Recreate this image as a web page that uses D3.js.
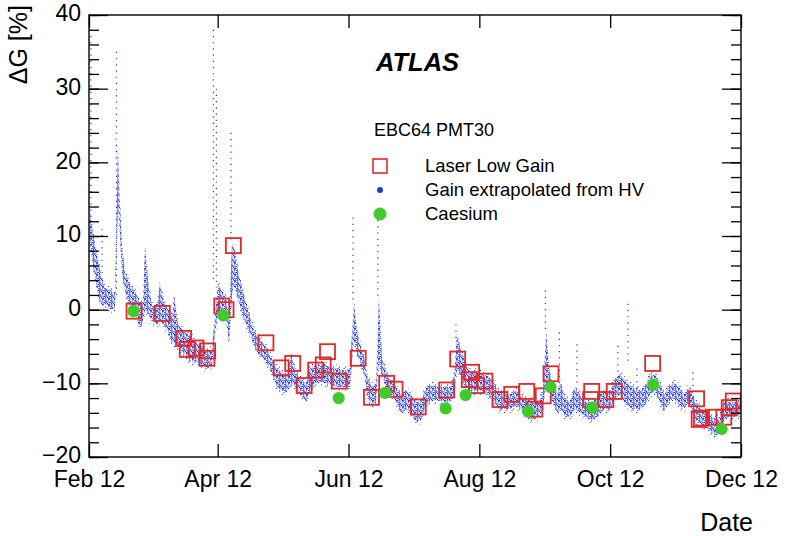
<!DOCTYPE html>
<html>
<head>
<meta charset="utf-8">
<script src="https://cdn.jsdelivr.net/npm/d3@7"></script>
<style>
  body { margin: 0; background: #fff; }
  svg { display: block; }
  text { font-family: 'Liberation Sans', Arial, Helvetica, sans-serif; fill: #000; }
</style>
</head>
<body>
<div id="chart"></div>
<script>
// x ticks
var tickDates = ['2012-02-01', '2012-04-01', '2012-06-01', '2012-08-01', '2012-10-01', '2012-12-01'];
var tickLabels = ['Feb 12', 'Apr 12', 'Jun 12', 'Aug 12', 'Oct 12', 'Dec 12'];
var yTicks = [-20, -10, 0, 10, 20, 30, 40];

// gain extrapolated from HV: spread of the points per day (days after Feb 1)
var hvDay = [0.5, 1.9, 3.3, 4.7, 6.1, 7.5, 9.8, 12.1, 13.5, 14.5, 15.4, 16.8, 19.1, 21.4, 23.8, 25.2,
    26.1, 27.5, 29.4, 31.7, 33.1, 35.0, 36.8, 38.7, 39.6, 41.5, 44.3, 47.1, 49.9, 52.7, 55.5, 57.3,
    60.1, 62.0, 63.9, 65.3, 66.7, 67.6, 69.0, 70.9, 72.7, 74.6, 76.5, 78.8, 81.1, 83.4, 85.8, 87.6,
    90.0, 92.3, 94.2, 96.5, 98.8, 101.2, 103.0, 105.4, 107.7, 110.5, 113.3, 116.1, 118.9, 121.7,
    123.5, 124.9, 126.8, 128.2, 129.6, 131.9, 133.8, 135.2, 136.6, 138.5, 140.8, 143.1, 145.5, 147.8,
    150.1, 152.4, 154.8, 157.1, 159.9, 162.7, 165.5, 168.3, 170.2, 171.6, 173.4, 175.3, 177.6, 180.4,
    183.2, 186.0, 188.8, 191.1, 193.5, 196.3, 199.1, 201.4, 204.2, 207.0, 209.8, 211.7, 213.1, 214.5,
    216.3, 218.2, 220.0, 221.9, 224.2, 226.6, 228.9, 231.7, 234.5, 237.3, 240.1, 242.9, 245.2, 247.6,
    249.4, 253.1, 256.9, 259.2, 261.5, 263.9, 266.2, 268.1, 270.4, 272.7, 275.1, 277.4, 279.7, 283.0,
    285.3, 287.6, 290.0, 292.3, 294.2, 296.0, 298.4, 300.7, 303.5];
var hvLo = [9, 6, 3.5, 1.5, 0.5, 0.8, 0, 0.2, 14, 10, 5, 2.5, 0.5, -0.5, -2.5, -1.5,
    0, -0.5, -1.5, -2, -1.5, -2, -3, -4.5, -4.5, -5, -6, -7, -7, -7.5, -8, -7.5,
    0, -0.5, -1.5, -4.5, 2, 3.5, 2, 0, -1.5, -3, -4.5, -6, -6.5, -7.5, -9, -10.5,
    -11, -11.2, -10, -10.5, -11.5, -12.5, -11, -10, -9.8, -10, -10.2, -10.5, -10.5, -10.5,
    -4, -6, -7.5, -8.5, -11.5, -13, -12.5, -7, -9, -10.5, -11.5, -12.5, -14, -13.5,
    -14, -15.2, -15, -12.8, -12.3, -12.3, -12.5, -12.5, -11.5, -8, -9, -10.5, -11, -11,
    -11, -11.5, -12.5, -13.5, -13.5, -13.5, -13, -13.5, -14.5, -15, -14.5, -13.5, -10, -11,
    -12.5, -14, -13.5, -14.5, -14.5, -13.5, -14, -14.5, -15, -14.5, -13.5, -13.5, -12, -11.5,
    -12.5, -13.5, -13.5, -13, -11.5, -11, -12.5, -13.8, -12.5, -12, -13, -13.5, -12.5, -15,
    -15.5, -16, -16.5, -17.2, -16.5, -15, -14.5, -14.5, -14.5];
var hvHi = [13, 10.5, 8, 6, 4, 3, 2.6, 2.2, 22, 14, 8.5, 5, 3.5, 2.5, 1, 1,
    8.5, 4, 0.5, 0.5, 3.5, 1, 0, -1, 2, -2, -3, -3.5, -4.5, -5, -5.5, -5.5,
    3.5, 2.5, 1.5, -1, 9, 8.5, 6, 3.5, 1.5, -0.5, -2.5, -3.8, -4.5, -5.5, -7, -8,
    -8.5, -8.8, -6, -8.5, -9.5, -10, -8, -7.5, -7.5, -7.5, -8, -8, -8.3, -8,
    1, -3, -5, -6.5, -9, -10.5, -10, 1.5, -6.5, -8.5, -9.5, -10.5, -11.5, -11,
    -11.5, -12.5, -12.5, -10.5, -10.3, -10.5, -10.5, -10.5, -9, -3.5, -5.5, -7, -8.5, -8.5,
    -8.8, -9, -10, -11, -11.5, -11.5, -11, -11.5, -12.2, -12.5, -12.5, -11, -3, -8,
    -10, -11.5, -10, -12, -12.5, -10.5, -11.5, -12.5, -12.5, -12, -11, -11, -9.5, -8.8,
    -9.5, -10.5, -11, -10.5, -9, -8.8, -10, -11.5, -10.5, -10, -10.5, -11.5, -10.5, -12.5,
    -13.5, -13.8, -14.5, -15, -14.5, -12.5, -12.5, -12.5, -12.5];

// isolated jumps after HV changes (sparse dots)
var spikeDay = [0.9, 6.1, 12.8, 58.0, 59.4, 66.2, 123.1, 134.7, 171.1, 212.8, 219.3, 227.5, 246.6, 251.3, 255.5, 281.6];
var spikeLo = [12, 4, 2, 4, 3, 9, 1, 1.5, -4, -3, -10, -10.5, -9.5, -7, -11, -12];
var spikeHi = [38, 11, 35, 38, 30, 24, 12.5, 13, -2, 2.6, -3.1, -4.7, -4.9, 0.8, -8, -8.5];

// laser low gain
var laserDay = [21.0, 34.2, 44.1, 45.8, 49.9, 55.3, 55.0, 61.9, 63.9, 67.3, 82.5, 89.6, 95.0, 100.3,
    105.7, 109.2, 111.2, 116.7, 125.5, 131.7, 138.8, 142.7, 153.5, 166.8, 171.9, 178.4, 177.3, 180.7,
    184.6, 191.6, 197.1, 204.1, 207.9, 211.8, 215.4, 234.4, 233.9, 241.0, 244.9, 262.8, 283.3, 284.5,
    285.6, 291.8, 296.0, 298.5, 300.4];
var laserGain = [-0.2, -0.5, -3.9, -5.4, -5.2, -5.6, -6.6, 0.5, 0.0, 8.7, -4.5, -7.9, -7.3, -10.3,
    -8.2, -7.5, -5.7, -9.7, -6.6, -11.9, -10.0, -10.8, -13.2, -10.9, -6.7, -8.5, -9.5, -10.3,
    -9.7, -12.2, -11.5, -11.1, -13.5, -11.7, -8.7, -11.1, -12.2, -12.2, -11.1, -7.3, -12.1, -14.9,
    -14.7, -14.6, -14.6, -13.3, -12.4];

// caesium
var csDay = [20.7, 62.6, 116.4, 138.0, 166.3, 175.6, 204.8, 215.2, 234.6, 263.1, 295.0];
var csGain = [-0.2, -0.8, -12.0, -11.3, -13.4, -11.6, -13.8, -10.5, -13.3, -10.2, -16.2];

var legendLabels = ['Laser Low Gain', 'Gain extrapolated from HV', 'Caesium'];

(function() {
    var W = 786, H = 536;
    var margin = {top: 15, right: 45, bottom: 79, left: 89};
    var width = W - margin.left - margin.right,
        height = H - margin.top - margin.bottom;
    var blue = '#2236d4', red = '#de2a2a', green = '#3fcc2a';

    var svg = d3.select('#chart').append('svg')
                .attr('width', W)
                .attr('height', H);

    // dotted texture for the dense HV points
    var defs = svg.append('defs');
    var pat = defs.append('pattern').attr('id', 'dots')
                .attr('width', 6).attr('height', 6)
                .attr('patternUnits', 'userSpaceOnUse');
    [[0, 0], [2.1, 0.6], [4.2, 1.4], [1.0, 2.3], [3.3, 3.0], [5.2, 3.6],
     [0.4, 4.4], [2.6, 5.0], [4.5, 4.9], [1.7, 1.5], [3.9, 0.1]].forEach(function(p) {
        pat.append('rect').attr('x', p[0]).attr('y', p[1])
            .attr('width', 1.25).attr('height', 1.25).attr('fill', blue);
    });
    var pat2 = defs.append('pattern').attr('id', 'dotsSparse')
                .attr('width', 6).attr('height', 6)
                .attr('patternUnits', 'userSpaceOnUse');
    [[1, 1], [4, 3.5], [2.5, 5]].forEach(function(p) {
        pat2.append('rect').attr('x', p[0]).attr('y', p[1])
            .attr('width', 1.1).attr('height', 1.1).attr('fill', blue);
    });

    var chart = svg.append('g')
                .attr('transform', 'translate(' + margin.left + ',' + margin.top + ')');

    var t0 = new Date(Date.UTC(2012, 1, 1));
    function dayToDate(d) { return new Date(t0.getTime() + d * 864e5); }

    // scales
    var xScale = d3.scaleUtc()
                .domain([t0, new Date(Date.UTC(2012, 11, 1))])
                .range([0, width]);
    var yScale = d3.scaleLinear()
                .domain([-20, 40])
                .range([height, 0]);

    var clip = defs.append('clipPath').attr('id', 'plotclip');
    clip.append('rect').attr('width', width).attr('height', height);
    var plot = chart.append('g').attr('clip-path', 'url(#plotclip)');

    // HV band
    var band = hvDay.map(function(d, i) { return {day: d, lo: hvLo[i], hi: hvHi[i]}; });
    var area = d3.area()
                .x(function(d) { return xScale(dayToDate(d.day)); })
                .y0(function(d) { return yScale(d.lo); })
                .y1(function(d) { return yScale(d.hi); });
    var areaFuzz = d3.area()
                .x(function(d) { return xScale(dayToDate(d.day)); })
                .y0(function(d) { return yScale(d.lo) + 4; })
                .y1(function(d) { return yScale(d.hi) - 4; });
    plot.append('path').datum(band)
        .attr('d', areaFuzz)
        .style('fill', 'url(#dotsSparse)');
    plot.append('path').datum(band)
        .attr('d', area)
        .style('fill', 'url(#dots)');

    // spikes
    plot.selectAll('line.spike')
        .data(spikeDay)
        .enter()
        .append('line').classed('spike', true)
        .attr('x1', function(d) { return xScale(dayToDate(d)); })
        .attr('x2', function(d) { return xScale(dayToDate(d)); })
        .attr('y1', function(d, i) { return yScale(spikeHi[i]); })
        .attr('y2', function(d, i) { return yScale(spikeLo[i]); })
        .style('stroke', blue)
        .style('stroke-width', 1.2)
        .style('stroke-dasharray', '1.2,5');

    // laser squares
    var sq = 15;
    plot.selectAll('rect.laser')
        .data(laserDay)
        .enter()
        .append('rect').classed('laser', true)
        .attr('x', function(d) { return xScale(dayToDate(d)) - sq / 2; })
        .attr('y', function(d, i) { return yScale(laserGain[i]) - sq / 2; })
        .attr('width', sq)
        .attr('height', sq)
        .style('fill', 'none')
        .style('stroke', red)
        .style('stroke-width', 1.8);

    // caesium
    plot.selectAll('circle.cs')
        .data(csDay)
        .enter()
        .append('circle').classed('cs', true)
        .attr('cx', function(d) { return xScale(dayToDate(d)); })
        .attr('cy', function(d, i) { return yScale(csGain[i]); })
        .attr('r', 6.1)
        .style('fill', green);

    // axes
    var xTicks = tickDates.map(function(s) { return new Date(s + 'T00:00:00Z'); });
    function xLabel(d, i) { return tickLabels[i]; }
    function clean(g) {
        g.select('.domain').remove();
        g.selectAll('line').style('stroke', '#000').style('stroke-width', 1.3);
    }
    chart.append('g').attr('transform', 'translate(0,' + height + ')')
        .call(d3.axisBottom(xScale).tickValues(xTicks).tickFormat(xLabel)
                .tickSizeInner(-13).tickSizeOuter(0).tickPadding(14))
        .call(clean)
        .selectAll('text').style('font-size', '23px')
        .style('font-family', "'Liberation Sans', Arial, sans-serif");
    chart.append('g')
        .call(d3.axisTop(xScale).tickValues(xTicks).tickFormat('')
                .tickSizeInner(-13).tickSizeOuter(0))
        .call(clean);

    var minor = d3.range(-20, 41, 2);
    chart.append('g')
        .call(d3.axisLeft(yScale).tickValues(yTicks)
                .tickSizeInner(-19).tickSizeOuter(0).tickPadding(8))
        .call(clean)
        .selectAll('text').style('font-size', '23px')
        .attr('dy', '0.26em')
        .style('font-family', "'Liberation Sans', Arial, sans-serif");
    chart.append('g')
        .call(d3.axisLeft(yScale).tickValues(minor).tickFormat('')
                .tickSizeInner(-10).tickSizeOuter(0))
        .call(clean);
    chart.append('g').attr('transform', 'translate(' + width + ',0)')
        .call(d3.axisRight(yScale).tickValues(yTicks).tickFormat('')
                .tickSizeInner(-19).tickSizeOuter(0))
        .call(clean);
    chart.append('g').attr('transform', 'translate(' + width + ',0)')
        .call(d3.axisRight(yScale).tickValues(minor).tickFormat('')
                .tickSizeInner(-10).tickSizeOuter(0))
        .call(clean);

    // frame
    chart.append('rect')
        .attr('width', width).attr('height', height)
        .style('fill', 'none').style('stroke', '#000').style('stroke-width', 1.4);

    // axis titles
    svg.append('text').text('Date')
        .attr('x', 753).attr('y', 531)
        .attr('text-anchor', 'end')
        .style('font-size', '25px');
    svg.append('text').text('ΔG [%]')
        .attr('transform', 'translate(27,5) rotate(-90)')
        .attr('text-anchor', 'end')
        .style('font-size', '25px');

    // ATLAS label + legend
    svg.append('text').text('ATLAS')
        .attr('x', 376).attr('y', 71)
        .style('font-size', '25.5px')
        .style('font-weight', 700)
        .style('font-style', 'italic');
    svg.append('text').text('EBC64 PMT30')
        .attr('x', 374).attr('y', 136)
        .style('font-size', '18px');

    var rows = [172, 196, 220];
    var lx = 380;
    svg.append('rect')
        .attr('x', lx - 7).attr('y', rows[0] - 13).attr('width', 14).attr('height', 14)
        .style('fill', 'none').style('stroke', red).style('stroke-width', 1.6);
    svg.append('circle')
        .attr('cx', lx).attr('cy', rows[1] - 6).attr('r', 3)
        .style('fill', blue);
    svg.append('circle')
        .attr('cx', lx).attr('cy', rows[2] - 6).attr('r', 6.5)
        .style('fill', green);
    legendLabels.forEach(function(s, i) {
        svg.append('text').text(s)
            .attr('x', 425).attr('y', rows[i])
            .style('font-size', '18.5px');
    });
}());
</script>
</body>
</html>
